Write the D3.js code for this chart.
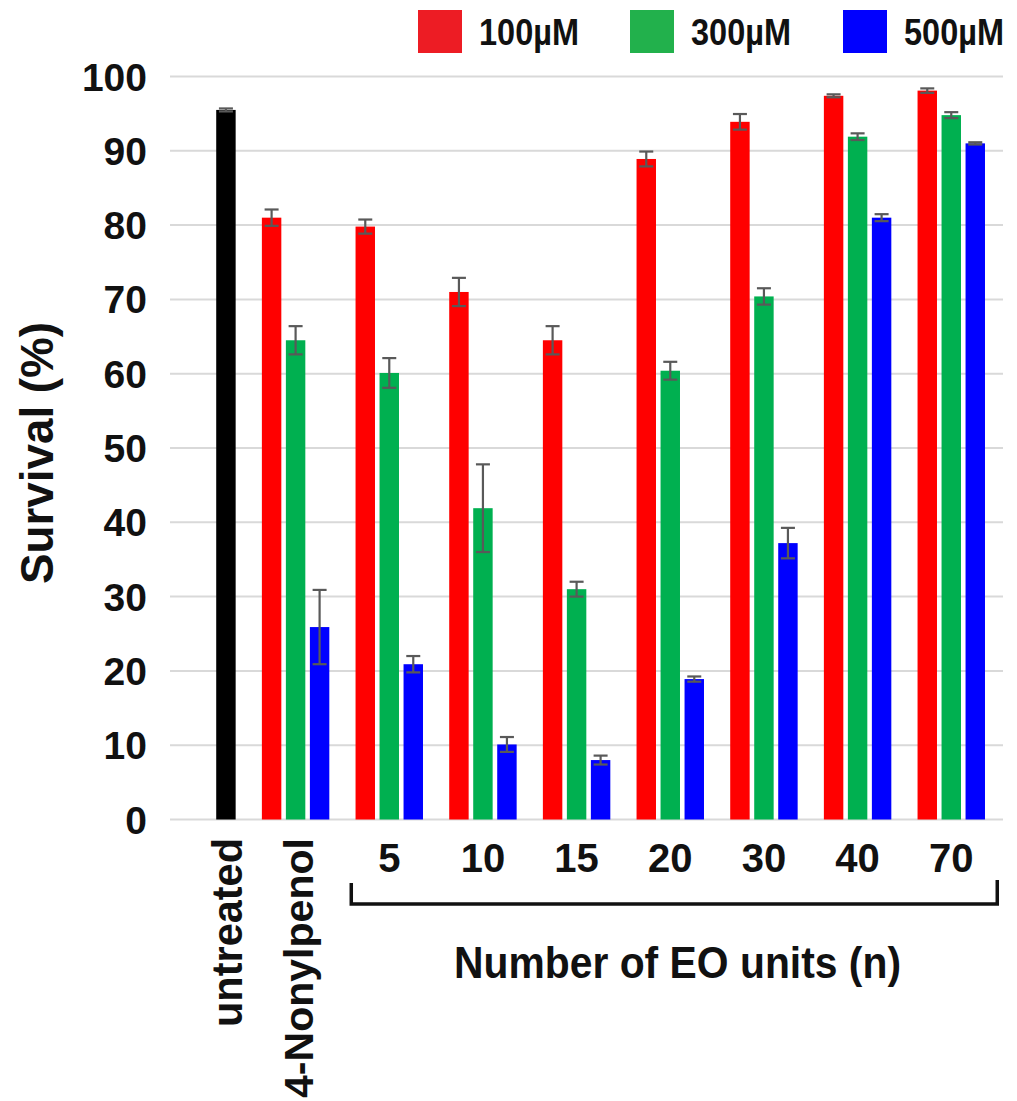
<!DOCTYPE html>
<html>
<head>
<meta charset="utf-8">
<script src="https://cdn.jsdelivr.net/npm/d3@7"></script>
<style>
  html, body { margin: 0; padding: 0; background: #fff; }
  svg { display: block; font-family: "Liberation Sans", Arial, sans-serif; font-weight: bold; }
</style>
</head>
<body>
<svg id="chart" width="1017" height="1101"></svg>
<script>
// Survival (%) of cells after exposure to 4-nonylphenol and its ethoxylates
const groups = ["untreated", "4-Nonylpenol", "5", "10", "15", "20", "30", "40", "70"];
const series = ["100µM", "300µM", "500µM"];
const seriesColors = ["#ff0000", "#00b050", "#0000ff"];
const legendColors = ["#ed1c24", "#22b14c", "#0000ff"];

// control value (drawn in the last slot of its group, in black)
const untreatedValue = 95.5;
const untreatedError = 0.2;

// treated groups: 4-Nonylpenol, then EO units 5..70
const values100 = [81.0, 79.8, 71.0, 64.5, 88.9, 93.9, 97.4, 98.1];
const errors100 = [1.1, 0.95, 1.9, 1.9, 1.0, 1.05, 0.2, 0.3];
const values300 = [64.5, 60.1, 41.9, 31.0, 60.4, 70.4, 91.9, 94.8];
const errors300 = [1.9, 2.0, 5.9, 1.0, 1.2, 1.1, 0.45, 0.4];
const values500 = [25.9, 20.9, 10.1, 8.0, 18.9, 37.2, 81.0, 91.0];
const errors500 = [5.0, 1.1, 1.0, 0.6, 0.35, 2.05, 0.47, 0.15];

const yTicks = [0, 10, 20, 30, 40, 50, 60, 70, 80, 90, 100];
const eoLabels = ["5", "10", "15", "20", "30", "40", "70"];

const svg = d3.select("#chart");

const x0 = d3.scaleBand().domain(groups).range([155.1, 998.1]).padding(0);
const bw = x0.bandwidth();
const x1 = d3.scaleBand().domain(series)
  .range([bw / 2 - 36, bw / 2 + 36]).paddingInner(0.19).paddingOuter(0.095);
const y = d3.scaleLinear().domain([0, 100]).range([819.5, 76.5]);

// gridlines
svg.append("g").selectAll("line").data(yTicks).join("line")
  .attr("x1", 170).attr("x2", 1003)
  .attr("y1", d => y(d)).attr("y2", d => y(d))
  .attr("stroke", "#d9d9d9").attr("stroke-width", 2);

// y tick labels
svg.append("g").selectAll("text").data(yTicks).join("text")
  .attr("x", 147).attr("y", d => y(d))
  .attr("dy", "0.36em")
  .attr("text-anchor", "end")
  .attr("font-size", 39)
  .attr("fill", "#111")
  .text(d => d);

// build bar records
const bars = [{ group: "untreated", key: "500µM", value: untreatedValue, err: untreatedError, color: "#000000" }];
const tables = [[values100, errors100], [values300, errors300], [values500, errors500]];
groups.slice(1).forEach((g, i) => {
  series.forEach((s, j) => {
    bars.push({ group: g, key: s, value: tables[j][0][i], err: tables[j][1][i], color: seriesColors[j] });
  });
});

const barW = x1.bandwidth();
const barG = svg.append("g");
barG.selectAll("rect").data(bars).join("rect")
  .attr("x", d => x0(d.group) + x1(d.key))
  .attr("y", d => y(d.value))
  .attr("width", barW)
  .attr("height", d => y(0) - y(d.value))
  .attr("fill", d => d.color);

// error bars
const errG = svg.append("g").attr("stroke", "#595959").attr("stroke-width", 2.2);
bars.forEach(d => {
  const cx = x0(d.group) + x1(d.key) + barW / 2;
  const top = y(d.value + d.err), bot = y(d.value - d.err);
  errG.append("line").attr("x1", cx).attr("x2", cx).attr("y1", top).attr("y2", bot);
  errG.append("line").attr("x1", cx - 7).attr("x2", cx + 7).attr("y1", top).attr("y2", top);
  errG.append("line").attr("x1", cx - 7).attr("x2", cx + 7).attr("y1", bot).attr("y2", bot);
});

// x category labels (EO unit counts)
svg.append("g").selectAll("text").data(eoLabels).join("text")
  .attr("x", d => x0(d) + bw / 2)
  .attr("y", 871.5)
  .attr("text-anchor", "middle")
  .attr("font-size", 40)
  .attr("fill", "#111")
  .text(d => d);

// rotated labels for the control and the parent compound
svg.append("text")
  .attr("transform", `translate(${x0("untreated") + x1("500µM") + barW / 2 + 16},838) rotate(-90)`)
  .attr("text-anchor", "end")
  .attr("font-size", 42)
  .attr("textLength", 189).attr("lengthAdjust", "spacingAndGlyphs")
  .attr("fill", "#111")
  .text("untreated");
svg.append("text")
  .attr("transform", `translate(${x0("4-Nonylpenol") + bw / 2 + 17.5},838) rotate(-90)`)
  .attr("text-anchor", "end")
  .attr("font-size", 41)
  .attr("textLength", 260).attr("lengthAdjust", "spacingAndGlyphs")
  .attr("fill", "#111")
  .text("4-Nonylpenol");

// bracket spanning the ethoxylate groups
const bxL = x0("5") + bw / 2 - 38;
const bxR = x0("70") + bw / 2 + 46;
svg.append("path")
  .attr("d", `M${bxL},883 V904 H${bxR} V880`)
  .attr("fill", "none").attr("stroke", "#111").attr("stroke-width", 3.5);

svg.append("text")
  .attr("x", (454 + 901) / 2).attr("y", 978)
  .attr("text-anchor", "middle")
  .attr("font-size", 45)
  .attr("textLength", 447).attr("lengthAdjust", "spacingAndGlyphs")
  .attr("fill", "#111")
  .text("Number of EO units (n)");

// y axis title
svg.append("text")
  .attr("transform", "translate(53,453) rotate(-90)")
  .attr("text-anchor", "middle")
  .attr("font-size", 46)
  .attr("textLength", 262).attr("lengthAdjust", "spacingAndGlyphs")
  .attr("fill", "#111")
  .text("Survival (%)");

// legend
const legendX = [418, 630, 843];
const leg = svg.append("g");
series.forEach((s, i) => {
  leg.append("rect").attr("x", legendX[i]).attr("y", 10).attr("width", 44).attr("height", 43)
    .attr("fill", legendColors[i]);
  leg.append("text").attr("x", legendX[i] + 61).attr("y", 45)
    .attr("font-size", 36)
    .attr("textLength", 100).attr("lengthAdjust", "spacingAndGlyphs")
    .attr("fill", "#111")
    .text(s);
});
</script>
</body>
</html>
